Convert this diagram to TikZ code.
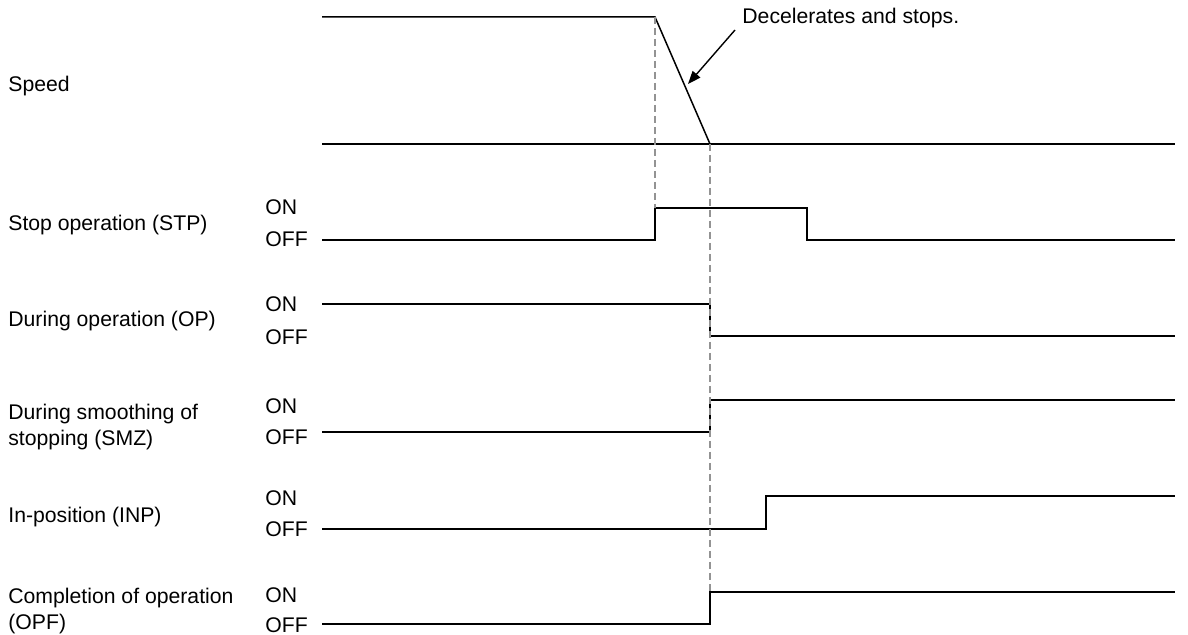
\documentclass[tikz,border=0pt]{standalone}
\usepackage{fontspec}
\setmainfont{Liberation Sans}
\usetikzlibrary{arrows.meta,positioning}

\begin{document}
\begin{tikzpicture}[
    x=0.5pt, y=-0.5pt,
    signame/.style={anchor=west, inner sep=0pt, align=left, font=\fontsize{10.6}{13.3}\selectfont},
    lvl/.style={anchor=west, inner sep=0pt, font=\fontsize{10.6}{13}\selectfont},
    sig/.style={line width=0.75pt},
    guide/.style={gray!85, line width=0.7pt, dash pattern=on 3.5pt off 2pt},
    arr/.style={-{Triangle[length=6.5pt, width=5pt]}, line width=0.7pt},
]
\useasboundingbox (0,0) rectangle (1188,635);
% Signal names
\node[signame] (speed) at (8,86) {Speed};
\node[signame] (stp) at (8,225) {Stop operation (STP)};
\node[signame] (op) at (8,321) {During operation (OP)};
\node[signame] (smz) at (8,427) {During smoothing of\\stopping (SMZ)};
\node[signame] (inp) at (8,517) {In-position (INP)};
\node[signame] (opf) at (8,611) {Completion of operation\\(OPF)};
% ON / OFF levels
\node[lvl] (stpon) at (265,207) {ON};
\node[lvl] (stpoff) at (265,239) {OFF};
\node[lvl] (opon) at (265,304) {ON};
\node[lvl] (opoff) at (265,337) {OFF};
\node[lvl] (smzon) at (265,406) {ON};
\node[lvl] (smzoff) at (265,437) {OFF};
\node[lvl] (inpon) at (265,498) {ON};
\node[lvl] (inpoff) at (265,529) {OFF};
\node[lvl] (opfon) at (265,595) {ON};
\node[lvl] (opfoff) at (265,625) {OFF};
% Key instants
\coordinate (t1top) at (655,17);
\coordinate (t2bot) at (710,144);
% Speed
\draw[sig] (322,17) -- (t1top) -- (t2bot);
\draw[sig] (322,144) -- (1175,144);
% Timing signals
\draw[sig] (322,240) -- (655,240) -- (655,208) -- (807,208) -- (807,240) -- (1175,240);
\draw[sig] (322,304) -- (710,304) -- (710,336) -- (1175,336);
\draw[sig] (322,432) -- (710,432) -- (710,400) -- (1175,400);
\draw[sig] (322,529) -- (766,529) -- (766,496) -- (1175,496);
\draw[sig] (322,624) -- (710,624) -- (710,592) -- (1175,592);
% Dashed guides
\draw[guide] (t1top) -- (655,208);
\draw[guide] (t2bot) -- (710,592);
% Annotation
\node[lvl] (decel) at (742,18) {Decelerates and stops.};
\coordinate (decelend) at (688,84);
\draw[arr] (735,30) -- (decelend);
\end{tikzpicture}
\end{document}
